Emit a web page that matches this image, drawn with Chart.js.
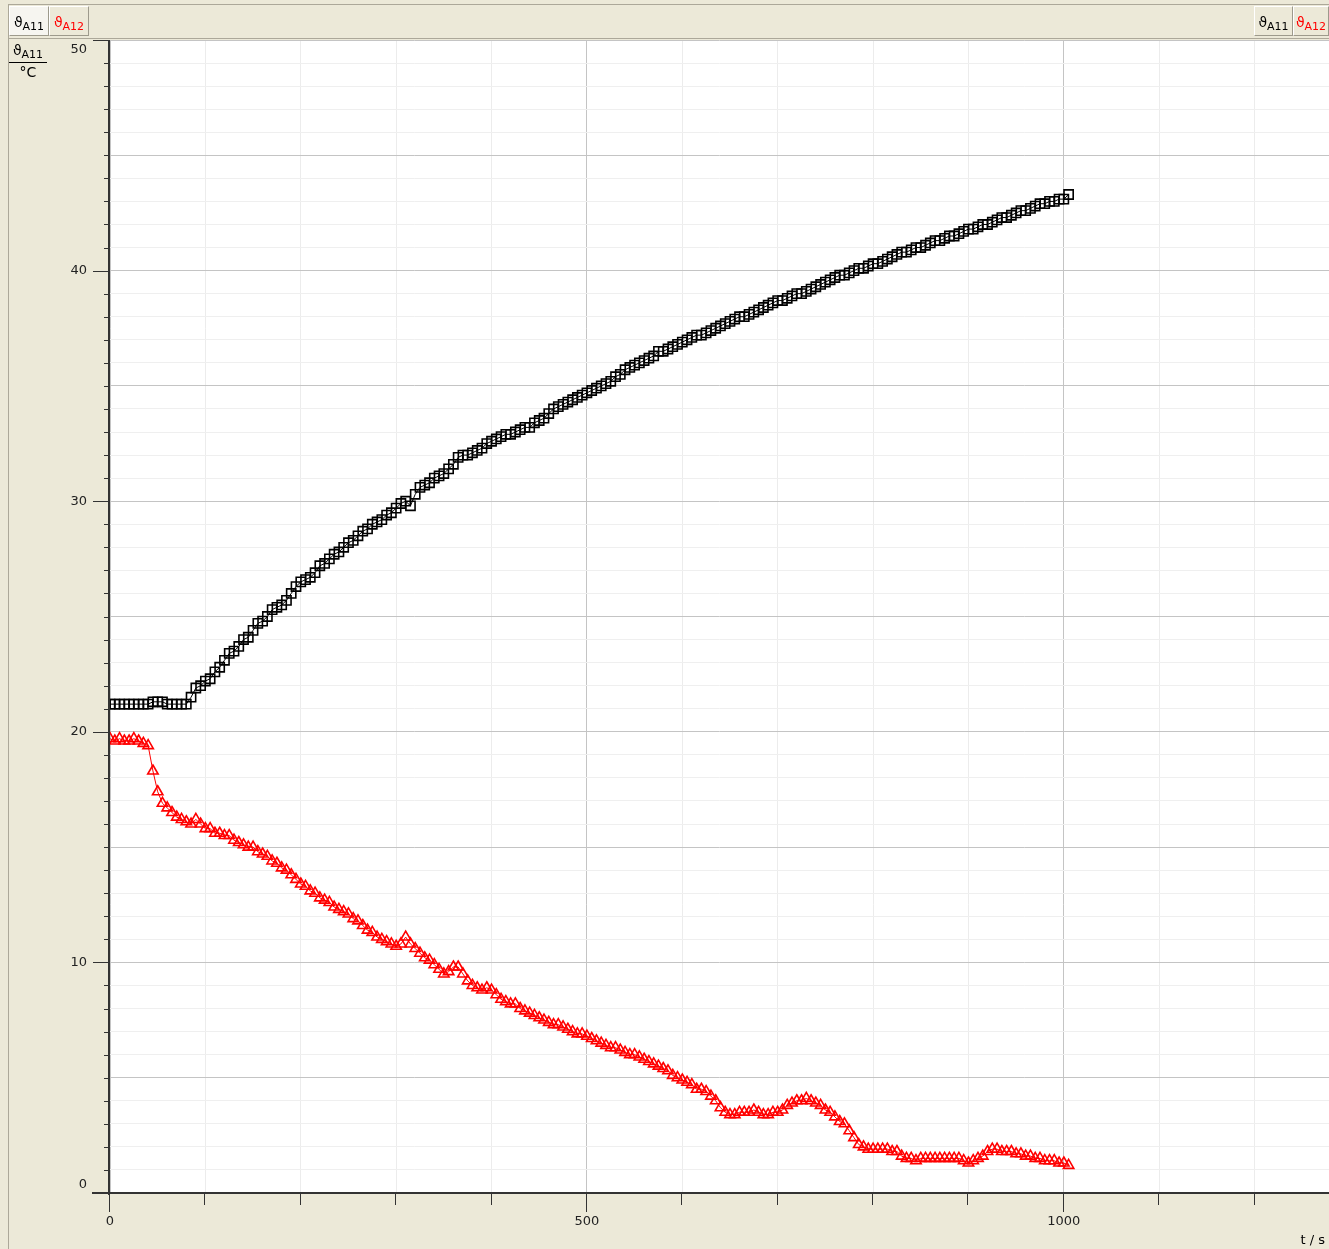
<!DOCTYPE html>
<html>
<head>
<meta charset="utf-8">
<script src="https://cdn.jsdelivr.net/npm/chart.js@4.4.1/dist/chart.umd.min.js"></script>
<style>
  html, body { margin: 0; padding: 0; }
  body { width: 1329px; height: 1249px; overflow: hidden; position: relative; background: #ece9d8;
         font-family: "DejaVu Sans", sans-serif; font-size: 13px; color: #000; }
  #chart { position: absolute; left: 0; top: 0; }
  .bar { position: absolute; left: 8px; top: 4px; width: 1321px; height: 33px;
         border-top: 1px solid #aca899; border-bottom: 1px solid #aca899; }
  .edge { position: absolute; left: 8px; top: 4px; width: 1px; height: 1245px; background: #aca899; }
  .btn { position: absolute; top: 6px; height: 30px; line-height: 30px; text-align: center; font-size: 14px;
         box-sizing: border-box; border-left: 1px solid #fff; border-top: 1px solid #fff;
         border-right: 1px solid #9d9a8c; border-bottom: 1px solid #9d9a8c; }
  .btn.on { background: #f6f5f0; }
  .red { color: #ff0000; }
  sub { font-size: 11px; vertical-align: -3px; }
  .unit { position: absolute; left: 9px; top: 42px; width: 38px; text-align: center; font-size: 14px; }
  .unit .num { border-bottom: 1px solid #000; padding-bottom: 1px; }
  .unit .den { padding-top: 1px; }
  .tlabel { position: absolute; right: 4px; top: 1232px; font-size: 13px; }
</style>
</head>
<body>
<canvas id="chart" width="1329" height="1249"></canvas>
<div class="edge"></div>
<div class="bar"></div>
<div class="btn on" style="left:9px;width:40px;">ϑ<sub>A11</sub></div>
<div class="btn red" style="left:49px;width:40px;">ϑ<sub>A12</sub></div>
<div class="btn" style="left:1254px;width:39px;">ϑ<sub>A11</sub></div>
<div class="btn red" style="left:1293px;width:36px;">ϑ<sub>A12</sub></div>
<div class="unit"><div class="num">ϑ<sub>A11</sub></div><div class="den">°C</div></div>
<div class="tlabel">t / s</div>
<script>
// time stamps in s
const times = [
  0, 5, 10, 15, 20, 25, 30, 35, 40, 45,
  50, 55, 60, 65, 70, 75, 80, 85, 90, 95,
  100, 105, 110, 115, 120, 125, 130, 135, 140, 145,
  150, 155, 160, 165, 170, 175, 180, 185, 190, 195,
  200, 205, 210, 215, 220, 225, 230, 235, 240, 245,
  250, 255, 260, 265, 270, 275, 280, 285, 290, 295,
  300, 305, 310, 315, 320, 325, 330, 335, 340, 345,
  350, 355, 360, 365, 370, 375, 380, 385, 390, 395,
  400, 405, 410, 415, 420, 425, 430, 435, 440, 445,
  450, 455, 460, 465, 470, 475, 480, 485, 490, 495,
  500, 505, 510, 515, 520, 525, 530, 535, 540, 545,
  550, 555, 560, 565, 570, 575, 580, 585, 590, 595,
  600, 605, 610, 615, 620, 625, 630, 635, 640, 645,
  650, 655, 660, 665, 670, 675, 680, 685, 690, 695,
  700, 705, 710, 715, 720, 725, 730, 735, 740, 745,
  750, 755, 760, 765, 770, 775, 780, 785, 790, 795,
  800, 805, 810, 815, 820, 825, 830, 835, 840, 845,
  850, 855, 860, 865, 870, 875, 880, 885, 890, 895,
  900, 905, 910, 915, 920, 925, 930, 935, 940, 945,
  950, 955, 960, 965, 970, 975, 980, 985, 990, 995,
  1000, 1005
];

// ϑA11 in °C (black squares)
const tempA11 = [
  21.2, 21.2, 21.2, 21.2, 21.2, 21.2, 21.2, 21.2, 21.2, 21.3,
  21.3, 21.3, 21.2, 21.2, 21.2, 21.2, 21.2, 21.5, 21.9, 22.0,
  22.2, 22.3, 22.6, 22.8, 23.1, 23.4, 23.5, 23.7, 24.0, 24.1,
  24.4, 24.7, 24.8, 25.0, 25.3, 25.4, 25.5, 25.7, 26.0, 26.3,
  26.5, 26.6, 26.7, 26.9, 27.2, 27.3, 27.5, 27.7, 27.8, 28.0,
  28.2, 28.3, 28.5, 28.7, 28.8, 29.0, 29.1, 29.2, 29.4, 29.5,
  29.7, 29.9, 30.0, 29.8, 30.3, 30.6, 30.7, 30.8, 31.0, 31.1,
  31.2, 31.4, 31.6, 31.9, 32.0, 32.0, 32.1, 32.2, 32.3, 32.5,
  32.6, 32.7, 32.8, 32.9, 32.9, 33.0, 33.1, 33.2, 33.2, 33.4,
  33.5, 33.6, 33.8, 34.0, 34.1, 34.2, 34.3, 34.4, 34.5, 34.6,
  34.7, 34.8, 34.9, 35.0, 35.1, 35.2, 35.4, 35.5, 35.7, 35.8,
  35.9, 36.0, 36.1, 36.2, 36.3, 36.5, 36.5, 36.6, 36.7, 36.8,
  36.9, 37.0, 37.1, 37.2, 37.2, 37.3, 37.4, 37.5, 37.6, 37.7,
  37.8, 37.9, 38.0, 38.0, 38.1, 38.2, 38.3, 38.4, 38.5, 38.6,
  38.7, 38.7, 38.8, 38.9, 39.0, 39.0, 39.1, 39.2, 39.3, 39.4,
  39.5, 39.6, 39.7, 39.8, 39.8, 39.9, 40.0, 40.1, 40.1, 40.2,
  40.3, 40.3, 40.4, 40.5, 40.6, 40.7, 40.8, 40.8, 40.9, 41.0,
  41.0, 41.1, 41.2, 41.3, 41.3, 41.4, 41.5, 41.5, 41.6, 41.7,
  41.8, 41.8, 41.9, 42.0, 42.0, 42.1, 42.2, 42.3, 42.3, 42.4,
  42.5, 42.6, 42.6, 42.7, 42.8, 42.9, 42.9, 43.0, 43.0, 43.1,
  43.1, 43.3
];

// ϑA12 in °C (red triangles)
const tempA12 = [
  19.7, 19.6, 19.7, 19.6, 19.6, 19.7, 19.6, 19.5, 19.4, 18.3,
  17.4, 16.9, 16.7, 16.5, 16.3, 16.2, 16.1, 16.0, 16.2, 16.0,
  15.8, 15.8, 15.6, 15.6, 15.5, 15.5, 15.3, 15.2, 15.1, 15.0,
  15.0, 14.8, 14.7, 14.6, 14.4, 14.3, 14.1, 14.0, 13.8, 13.6,
  13.4, 13.3, 13.1, 13.0, 12.8, 12.7, 12.6, 12.4, 12.3, 12.2,
  12.1, 11.9, 11.8, 11.6, 11.4, 11.3, 11.1, 11.0, 10.9, 10.8,
  10.7, 10.8, 11.1, 10.8, 10.6, 10.4, 10.2, 10.1, 9.9, 9.7,
  9.5, 9.6, 9.8, 9.8, 9.5, 9.2, 9.0, 8.9, 8.8, 8.9,
  8.8, 8.6, 8.4, 8.3, 8.2, 8.2, 8.0, 7.9, 7.8, 7.7,
  7.6, 7.5, 7.4, 7.3, 7.3, 7.2, 7.1, 7.0, 6.9, 6.9,
  6.8, 6.7, 6.6, 6.5, 6.4, 6.3, 6.3, 6.2, 6.1, 6.0,
  6.0, 5.9, 5.8, 5.7, 5.6, 5.5, 5.4, 5.3, 5.1, 5.0,
  4.9, 4.8, 4.7, 4.5, 4.5, 4.4, 4.2, 4.0, 3.7, 3.5,
  3.4, 3.4, 3.5, 3.5, 3.5, 3.6, 3.5, 3.4, 3.4, 3.5,
  3.5, 3.6, 3.8, 3.9, 4.0, 4.0, 4.1, 4.0, 3.9, 3.8,
  3.6, 3.5, 3.3, 3.1, 3.0, 2.7, 2.4, 2.1, 2.0, 1.9,
  1.9, 1.9, 1.9, 1.9, 1.8, 1.8, 1.6, 1.5, 1.5, 1.4,
  1.5, 1.5, 1.5, 1.5, 1.5, 1.5, 1.5, 1.5, 1.5, 1.4,
  1.3, 1.4, 1.5, 1.6, 1.8, 1.9, 1.9, 1.8, 1.8, 1.8,
  1.7, 1.7, 1.6, 1.6, 1.5, 1.5, 1.4, 1.4, 1.4, 1.3,
  1.3, 1.2
];

const xLabels = [0, 500, 1000];
const yLabels = [0, 10, 20, 30, 40, 50];
const yEdgeLabels = [0, 50]; // drawn inside the plot height, as in the original

const toPoints = vals => vals.map((v, i) => ({ x: times[i], y: v }));

const plotBackground = {
  id: 'plotBackground',
  beforeDraw(chart) {
    const { ctx, chartArea: a } = chart;
    ctx.save();
    ctx.fillStyle = '#ffffff';
    ctx.fillRect(a.left, a.top, a.right - a.left, a.bottom - a.top);
    ctx.restore();
  },
};

// axis lines, tick marks and edge labels drawn like the original software
const axisMarks = {
  id: 'axisMarks',
  afterDraw(chart) {
    const { ctx, chartArea: a, scales } = chart;
    const xs = scales.x, ys = scales.y;
    ctx.save();
    ctx.fillStyle = '#333333';
    ctx.fillRect(a.left - 2, a.top, 2, a.bottom - a.top + 2);
    ctx.fillRect(a.left - 18, a.bottom - 1, a.right - a.left + 18, 2);
    ctx.strokeStyle = '#333333';
    ctx.lineWidth = 1;
    ctx.beginPath();
    for (let v = 1; v <= 50; v++) {
      const y = Math.round(ys.getPixelForValue(v)) + 0.5;
      const len = yLabels.includes(v) ? 16 : 5;
      ctx.moveTo(a.left - 1 - len, y);
      ctx.lineTo(a.left - 1, y);
    }
    for (let v = 0; v <= 1200; v += 100) {
      const x = Math.round(xs.getPixelForValue(v)) - 0.5;
      const len = xLabels.includes(v) ? 19 : 12;
      ctx.moveTo(x, a.bottom);
      ctx.lineTo(x, a.bottom + len);
    }
    ctx.stroke();
    ctx.fillStyle = '#222';
    ctx.font = '13px "DejaVu Sans"';
    ctx.textAlign = 'right';
    ctx.textBaseline = 'middle';
    yEdgeLabels.forEach(v => {
      const y = ys.getPixelForValue(v) + (v === 0 ? -8 : 10);
      ctx.fillText(String(v), a.left - 23, y);
    });
    ctx.restore();
  },
};

new Chart(document.getElementById('chart'), {
  type: 'line',
  data: {
    datasets: [
      {
        label: 'ϑA11',
        data: toPoints(tempA11),
        borderColor: '#000000',
        borderWidth: 1,
        pointStyle: 'rect',
        pointRadius: 6.5,
        pointBorderWidth: 1.6,
        pointBorderColor: '#000000',
        pointBackgroundColor: 'rgba(0,0,0,0)',
        tension: 0,
      },
      {
        label: 'ϑA12',
        data: toPoints(tempA12),
        borderColor: '#ff0000',
        borderWidth: 1,
        pointStyle: 'triangle',
        pointRadius: 6,
        pointBorderWidth: 1.6,
        pointBorderColor: '#ff0000',
        pointBackgroundColor: 'rgba(0,0,0,0)',
        tension: 0,
      },
    ],
  },
  options: {
    responsive: false,
    animation: false,
    layout: { autoPadding: false, padding: { top: 40, left: 0, right: 0, bottom: 0 } },
    plugins: { legend: { display: false }, tooltip: { enabled: false } },
    scales: {
      x: {
        type: 'linear',
        min: 0,
        max: 1278,
        afterFit: s => { s.height = 56; s.paddingRight = 0; s.paddingLeft = 0; },
        border: { display: false },
        grid: {
          drawTicks: false,
          color: c => (c.tick && c.tick.value % 500 === 0 ? '#c4c4c4' : '#ececec'),
        },
        ticks: {
          stepSize: 100,
          includeBounds: false,
          maxRotation: 0,
          autoSkip: false,
          padding: 21,
          color: '#222',
          font: { family: 'DejaVu Sans', size: 13 },
          callback: v => (xLabels.includes(v) ? String(v) : ''),
        },
      },
      y: {
        min: 0,
        max: 50,
        afterFit: s => { s.width = 110; s.paddingTop = 0; s.paddingBottom = 0; },
        border: { display: false },
        grid: {
          drawTicks: false,
          color: c => (c.tick && c.tick.value % 5 === 0 ? '#c4c4c4' : '#efefef'),
        },
        ticks: {
          stepSize: 1,
          autoSkip: false,
          padding: 23,
          color: '#222',
          font: { family: 'DejaVu Sans', size: 13 },
          callback: v => (yLabels.includes(v) && !yEdgeLabels.includes(v) ? String(v) : ''),
        },
      },
    },
  },
  plugins: [plotBackground, axisMarks],
});
</script>
</body>
</html>
